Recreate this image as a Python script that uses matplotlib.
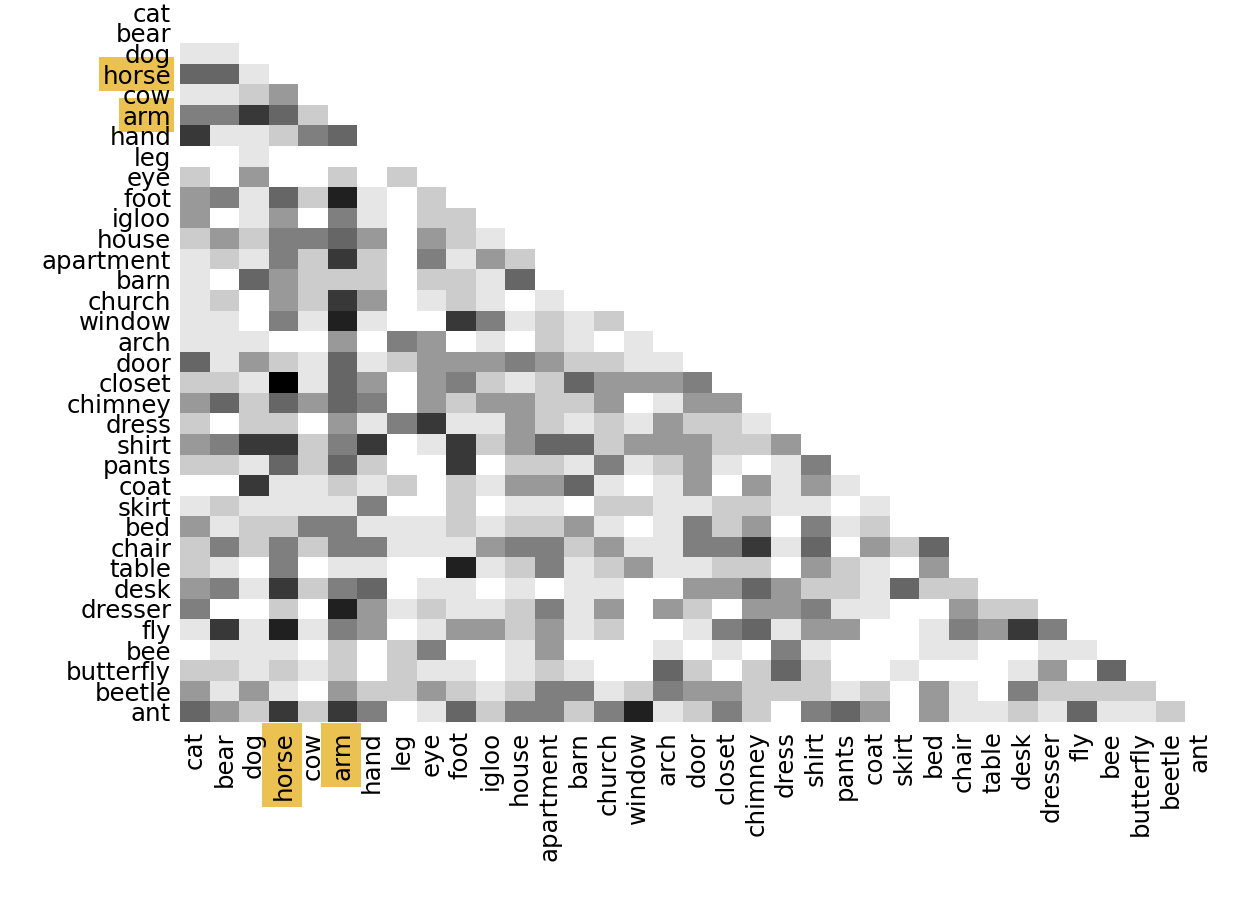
import numpy as np
import matplotlib
matplotlib.use("Agg")
import matplotlib.pyplot as plt
from matplotlib.colors import ListedColormap
from matplotlib.patches import Rectangle
from matplotlib.transforms import IdentityTransform, ScaledTranslation

words = ["cat", "bear", "dog", "horse", "cow", "arm", "hand", "leg", "eye", "foot",
         "igloo", "house", "apartment", "barn", "church", "window", "arch", "door",
         "closet", "chimney", "dress", "shirt", "pants", "coat", "skirt", "bed",
         "chair", "table", "desk", "dresser", "fly", "bee", "butterfly", "beetle", "ant"]
highlight = ["horse", "arm"]

# lower triangle, one list per row, grey level index
rows = [
    [],
    [0],
    [1, 1],
    [5, 5, 1],
    [1, 1, 2, 3],
    [4, 4, 6, 5, 2],
    [6, 1, 1, 2, 4, 5],
    [0, 0, 1, 0, 0, 0, 0],
    [2, 0, 3, 0, 0, 2, 0, 2],
    [3, 4, 1, 5, 2, 7, 1, 0, 2],
    [3, 0, 1, 3, 0, 4, 1, 0, 2, 2],
    [2, 3, 2, 4, 4, 5, 3, 0, 3, 2, 1],
    [1, 2, 1, 4, 2, 6, 2, 0, 4, 1, 3, 2],
    [1, 0, 5, 3, 2, 2, 2, 0, 2, 2, 1, 5, 0],
    [1, 2, 0, 3, 2, 6, 3, 0, 1, 2, 1, 0, 1, 0],
    [1, 1, 0, 4, 1, 7, 1, 0, 0, 6, 4, 1, 2, 1, 2],
    [1, 1, 1, 0, 0, 3, 0, 4, 3, 0, 1, 0, 2, 1, 0, 1],
    [5, 1, 3, 2, 1, 5, 1, 2, 3, 3, 3, 4, 3, 2, 2, 1, 1],
    [2, 2, 1, 8, 1, 5, 3, 0, 3, 4, 2, 1, 2, 5, 3, 3, 3, 4],
    [3, 5, 2, 5, 3, 5, 4, 0, 3, 2, 3, 3, 2, 2, 3, 0, 1, 3, 3],
    [2, 0, 2, 2, 0, 3, 1, 4, 6, 1, 1, 3, 2, 1, 2, 1, 3, 2, 2, 1],
    [3, 4, 6, 6, 2, 4, 6, 0, 1, 6, 2, 3, 5, 5, 2, 3, 3, 3, 2, 2, 3],
    [2, 2, 1, 5, 2, 5, 2, 0, 0, 6, 0, 2, 2, 1, 4, 1, 2, 3, 1, 0, 1, 4],
    [0, 0, 6, 1, 1, 2, 1, 2, 0, 2, 1, 3, 3, 5, 1, 0, 1, 3, 0, 3, 1, 3, 1],
    [1, 2, 1, 1, 1, 1, 4, 0, 0, 2, 0, 1, 1, 0, 2, 2, 1, 1, 2, 2, 1, 1, 0, 1],
    [3, 1, 2, 2, 4, 4, 1, 1, 1, 2, 1, 2, 2, 3, 1, 0, 1, 4, 2, 3, 0, 4, 1, 2, 0],
    [2, 4, 2, 4, 2, 4, 4, 1, 1, 1, 3, 4, 4, 2, 3, 1, 1, 4, 4, 6, 1, 5, 0, 3, 2, 5],
    [2, 1, 0, 4, 0, 1, 1, 0, 0, 7, 1, 2, 4, 1, 2, 3, 1, 1, 2, 2, 0, 3, 2, 1, 0, 3, 0],
    [3, 4, 1, 6, 2, 4, 5, 0, 1, 1, 0, 1, 0, 1, 1, 0, 0, 3, 3, 5, 3, 2, 2, 1, 5, 2, 2, 0],
    [4, 0, 0, 2, 0, 7, 3, 1, 2, 1, 1, 2, 4, 1, 3, 0, 3, 2, 0, 3, 3, 4, 1, 1, 0, 0, 3, 2, 2],
    [1, 6, 1, 7, 1, 4, 3, 0, 1, 3, 3, 2, 3, 1, 2, 0, 0, 1, 4, 5, 1, 3, 3, 0, 0, 1, 4, 3, 6, 4],
    [0, 1, 1, 1, 0, 2, 0, 2, 4, 0, 0, 1, 3, 0, 0, 0, 1, 0, 1, 0, 4, 1, 0, 0, 0, 1, 1, 0, 0, 1, 1],
    [2, 2, 1, 2, 1, 2, 0, 2, 1, 1, 0, 1, 2, 1, 0, 0, 5, 2, 0, 2, 5, 2, 0, 0, 1, 0, 0, 0, 1, 3, 0, 5],
    [3, 1, 3, 1, 0, 3, 2, 2, 3, 2, 1, 2, 4, 4, 1, 2, 4, 3, 3, 2, 2, 2, 1, 2, 0, 3, 1, 0, 4, 2, 2, 2, 2],
    [5, 3, 2, 6, 2, 6, 4, 0, 1, 5, 2, 4, 4, 2, 4, 7, 1, 2, 4, 2, 0, 4, 5, 3, 0, 3, 1, 1, 2, 1, 5, 1, 1, 2],
]
greys = ["#ffffff", "#e6e6e6", "#cccccc", "#999999", "#7f7f7f", "#666666", "#383838", "#202020", "#000000"]

n = len(words)
matrix = np.full((n, n), np.nan)
for i, row in enumerate(rows):
    matrix[i, :len(row)] = row
matrix = np.ma.masked_invalid(matrix)

W, H = 1256, 903
fig = plt.figure(figsize=(W / 100, H / 100), dpi=100)
ax = fig.add_axes([180 / W, 1 - 723 / H, 1034.6 / W, 720 / H])
ax.set_facecolor("none")
cmap = ListedColormap(greys)
ax.imshow(matrix, cmap=cmap, vmin=-0.5, vmax=8.5, aspect="auto", interpolation="nearest")

ax.set_xticks(range(n))
ax.set_yticks(range(n))
ax.set_xticklabels(words, rotation=90, fontsize=17.6)
ax.set_yticklabels(words, fontsize=17.6)
ax.tick_params(axis="x", length=0, pad=6)
ax.tick_params(axis="y", length=0, pad=6.3)
for side in ax.spines.values():
    side.set_visible(False)

# nudge the row labels up a pixel
nudge = ScaledTranslation(0, 1 / 100, fig.dpi_scale_trans)
for lab in ax.get_yticklabels():
    lab.set_transform(lab.get_transform() + nudge)

# highlight boxes sit behind the tick labels
fig.canvas.draw()
for lab in ax.get_yticklabels():
    if lab.get_text() in highlight:
        box = lab.get_window_extent()
        yc = ax.transData.transform((0, words.index(lab.get_text())))[1]
        fig.add_artist(Rectangle((box.x0 - 4, yc - 17.3), box.width + 7, 34.6,
                                 transform=IdentityTransform(), color="#ebc152", lw=0, zorder=-1))
for lab in ax.get_xticklabels():
    if lab.get_text() in highlight:
        box = lab.get_window_extent()
        xc = ax.transData.transform((words.index(lab.get_text()), 0))[0] - 1.5
        w = box.width + 16
        fig.add_artist(Rectangle((xc - w / 2, box.y0 - 8), w, box.height + 15,
                                 transform=IdentityTransform(), color="#ebc152", lw=0, zorder=-1))

fig.savefig("out.png", dpi=100)
